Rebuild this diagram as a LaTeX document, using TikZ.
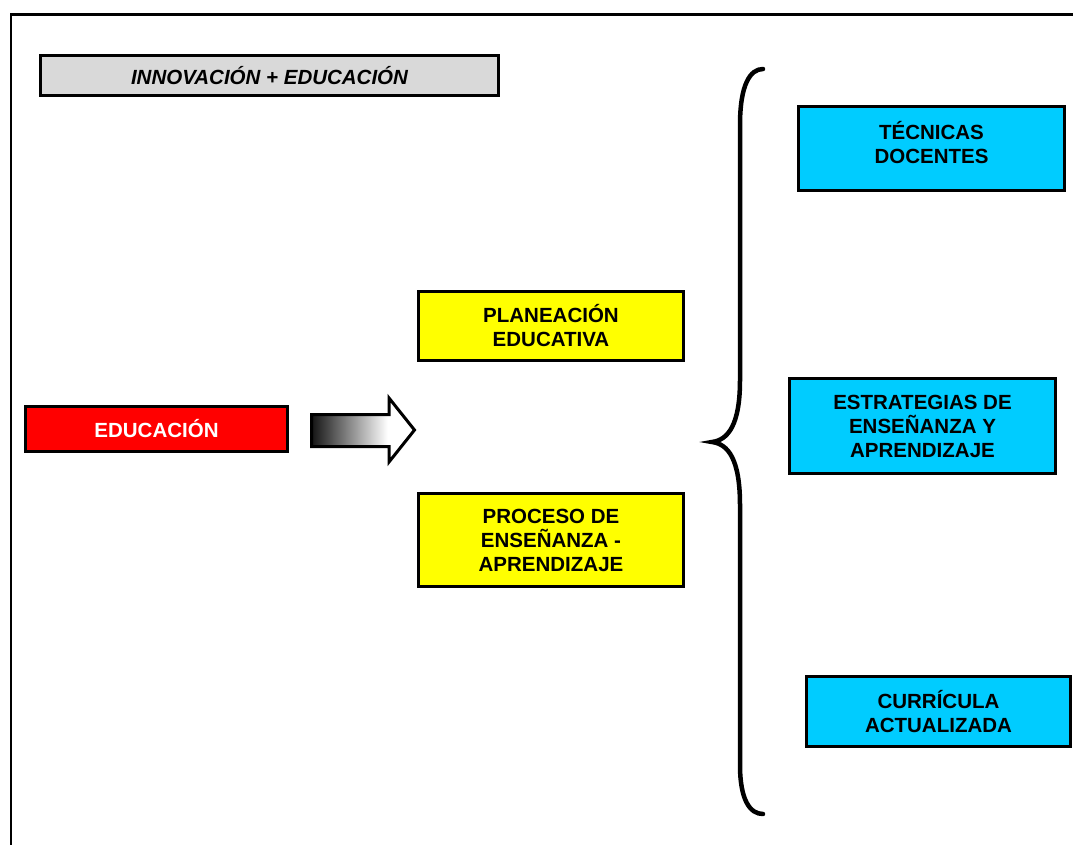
\documentclass[tikz,border=0pt]{standalone}
\usepackage{fontspec}
\setmainfont{Liberation Sans}
\definecolor{boxgray}{HTML}{D9D9D9}
\definecolor{boxred}{HTML}{FF0000}
\definecolor{boxyellow}{HTML}{FFFF00}
\definecolor{boxcyan}{HTML}{00CCFF}
% dark-to-white fill for the block arrow (path spans 25bp..75bp)
\pgfdeclarehorizontalshading{arrowfade}{100bp}{color(0bp)=(black!92); color(25bp)=(black!92); color(62bp)=(white); color(100bp)=(white)}
\begin{document}
\begin{tikzpicture}[x=1pt,y=-1pt,
  box/.style={draw=black, line width=3.5pt, rectangle, inner sep=0pt, align=center,
    font=\fontsize{20.5}{24}\selectfont\bfseries},
  titlebox/.style={box, fill=boxgray, font=\fontsize{20.5}{24}\selectfont\bfseries\itshape},
  redbox/.style={box, fill=boxred, text=white},
  yellowbox/.style={box, fill=boxyellow},
  cyanbox/.style={box, fill=boxcyan},
  plaintext/.style={inner sep=0pt, align=center, font=\fontsize{20.5}{24}\selectfont\bfseries},
  frame/.style={line width=2.5pt},
  brace/.style={line width=4.5pt, line cap=round}
]
\useasboundingbox (0,0) rectangle (1073,844);
\begin{scope}
\clip (0,0) rectangle (1073,844);
% page frame running off the right and bottom edges
\draw[frame] (11,860) -- (11,14.5) -- (1090,14.5);
\end{scope}

% heading
\node[titlebox, minimum width=458pt, minimum height=40pt] (title) at (269.5,75.5) {INNOVACIÓN + EDUCACIÓN};

% left column
\node[redbox, minimum width=262pt, minimum height=45pt] (edu) at (156.5,429) {EDUCACIÓN};

% shaded block arrow
\draw[line width=3pt, line join=miter, shading=arrowfade]
  (311.5,414.5) -- (389,414.5) -- (389,398) -- (414.5,430) -- (389,462)
  -- (389,446.5) -- (311.5,446.5) -- cycle;

% middle column
\node[yellowbox, minimum width=265pt, minimum height=69pt] (plan) at (551,326) {PLANEACIÓN\\EDUCATIVA};
\node[yellowbox, minimum width=265pt, minimum height=93pt] (proc) at (551,540) {PROCESO DE\\ENSEÑANZA -\\APRENDIZAJE};

% curly brace
\draw[brace] (763,69) .. controls (750,69) and (740,85) .. (740,125)
  -- (740,380) .. controls (740,425) and (728,440) .. (712,442)
  .. controls (728,444) and (740,459) .. (740,505)
  -- (740,765) .. controls (740,800) and (750,814) .. (763,814);

% right column
\node[cyanbox, minimum width=266pt, minimum height=84pt] (tec) at (931.5,148.5) {};
\node[plaintext] (tectext) at (931.5,142.5) {TÉCNICAS\\DOCENTES};
\node[cyanbox, minimum width=266pt, minimum height=95pt] (estr) at (922.5,426) {ESTRATEGIAS DE\\ENSEÑANZA Y\\APRENDIZAJE};
\node[cyanbox, minimum width=264pt, minimum height=70pt] (curr) at (938.5,711.5) {CURRÍCULA\\ACTUALIZADA};
\end{tikzpicture}
\end{document}
